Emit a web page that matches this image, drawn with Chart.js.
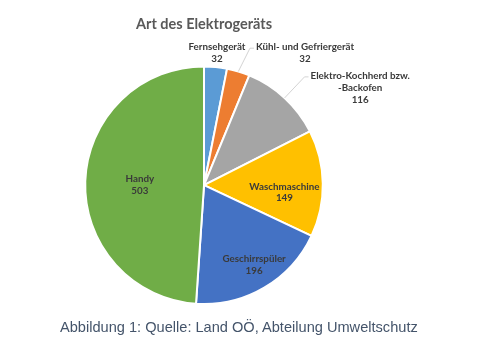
<!DOCTYPE html>
<html>
<head>
<meta charset="utf-8">
<script src="https://cdn.jsdelivr.net/npm/chart.js@4/dist/chart.umd.min.js"></script>
<style>
  html, body { margin: 0; padding: 0; background: #ffffff; }
  #wrap { position: relative; width: 504px; height: 355px; }
  #c { position: absolute; left: 0; top: 0; }
  #caption { position: absolute; left: 60px; top: 317px; font-family: "Liberation Sans", Arial, sans-serif; font-size: 14.6px; color: #44546A; white-space: nowrap; line-height: 20px; }
</style>
</head>
<body>
<div id="wrap">
  <canvas id="c" width="504" height="355"></canvas>
  <div id="caption">Abbildung 1: Quelle: Land OÖ, Abteilung Umweltschutz</div>
</div>
<script>
const chartTitle = 'Art des Elektrogeräts';
const categories = ['Fernsehgerät', 'Kühl- und Gefriergerät', 'Elektro-Kochherd bzw. -Backofen', 'Waschmaschine', 'Geschirrspüler', 'Handy'];
const labelLines = [['Fernsehgerät'], ['Kühl- und Gefriergerät'], ['Elektro-Kochherd bzw.', '-Backofen'], ['Waschmaschine'], ['Geschirrspüler'], ['Handy']];
const values = [32, 32, 116, 149, 196, 503];

const sliceColors = ['#5B9BD5', '#ED7D31', '#A5A5A5', '#FFC000', '#4472C4', '#70AD47'];
// label placement relative to each arc: radius factor, angle shift (deg), leader line
const labelPlacement = [
  { r: 1.12, da: 0, leader: false },
  { r: 1.40, da: 20.6, leader: true },
  { r: 1.55, da: 15.3, leader: true },
  { r: 0.68, da: 6, leader: false },
  { r: 0.79, da: -1.8, leader: false },
  { r: 0.54, da: -1.6, leader: false }
];
const labelFont = 'bold 9.8px Lato, "Open Sans", sans-serif';
const labelColor = '#3A3A3A';
const lineH = 11.8;

const labelPlugin = {
  id: 'sliceLabels',
  afterDatasetsDraw(chart) {
    const ctx = chart.ctx;
    const meta = chart.getDatasetMeta(0);
    ctx.save();
    ctx.font = labelFont;
    ctx.fillStyle = labelColor;
    ctx.textAlign = 'center';
    ctx.textBaseline = 'middle';
    meta.data.forEach((arc, i) => {
      const p = arc.getProps(['x', 'y', 'startAngle', 'endAngle', 'outerRadius'], true);
      const mid = (p.startAngle + p.endAngle) / 2;
      const pl = labelPlacement[i];
      const ang = mid + pl.da * Math.PI / 180;
      const cx = p.x + Math.cos(ang) * p.outerRadius * pl.r;
      const cy = p.y + Math.sin(ang) * p.outerRadius * pl.r;
      const lines = labelLines[i].concat([String(chart.data.datasets[0].data[i])]);
      const top = cy - (lines.length - 1) * lineH / 2;
      lines.forEach((t, k) => ctx.fillText(t, cx, top + k * lineH));
      if (pl.leader) {
        const w = ctx.measureText(lines[0]).width;
        const ex = p.x + Math.cos(mid) * p.outerRadius;
        const ey = p.y + Math.sin(mid) * p.outerRadius;
        const lx = cx - w / 2 - 2;
        ctx.strokeStyle = '#C8C8C8';
        ctx.lineWidth = 0.8;
        ctx.beginPath();
        ctx.moveTo(ex, ey);
        ctx.lineTo(lx - 4, top + 1);
        ctx.lineTo(lx, top + 1);
        ctx.stroke();
      }
    });
    ctx.restore();
  }
};

new Chart(document.getElementById('c'), {
  type: 'pie',
  data: {
    labels: categories,
    datasets: [{
      data: values,
      backgroundColor: sliceColors,
      borderColor: '#ffffff',
      borderWidth: 2,
      hoverOffset: 0
    }]
  },
  options: {
    responsive: false,
    animation: false,
    devicePixelRatio: 1,
    layout: { padding: { left: 84, right: 180, top: 0, bottom: 50 } },
    plugins: {
      legend: { display: false },
      tooltip: { enabled: false },
      title: {
        display: true,
        text: chartTitle,
        color: '#595959',
        font: { family: 'Lato, "Open Sans", sans-serif', size: 14.5, weight: 'bold' },
        padding: { top: 16, bottom: 32 }
      }
    }
  },
  plugins: [labelPlugin]
});
</script>
</body>
</html>
